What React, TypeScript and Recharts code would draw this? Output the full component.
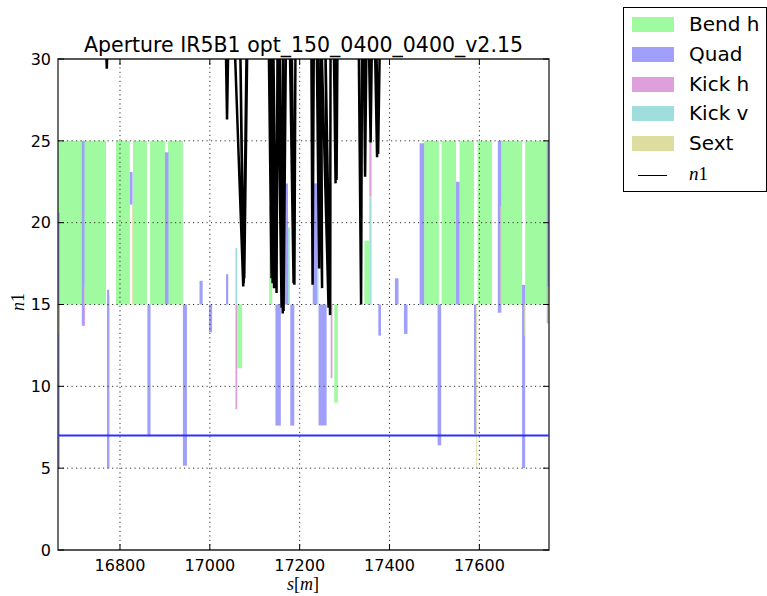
import React from "react";
import { ComposedChart, Line, XAxis, YAxis, ReferenceArea, ReferenceLine } from "recharts";

const TITLE = "Aperture IR5B1 opt_150_0400_0400_v2.15";

const S_MIN = 16662;
const S_MAX = 17755;
const xTicks = [16800, 17000, 17200, 17400, 17600];
const yTicks = [0, 5, 10, 15, 20, 25, 30];
const gridY = [5, 10, 15, 20, 25];

// element boxes: [s start, s end, n1 low, n1 high]
const bendH = [
  [16662, 16769, 15, 25],
  [16791, 16822, 15, 25],
  [16829, 16860, 15, 25],
  [16867, 16900, 15, 25],
  [16907, 16940, 15, 25],
  [17061, 17072, 11.1, 15],
  [17132, 17139, 15, 21],
  [17277, 17285, 9, 15],
  [17344, 17355, 15, 18.9],
  [17477, 17510, 15, 25],
  [17516, 17548, 15, 25],
  [17556, 17588, 15, 25],
  [17596, 17628, 15, 25],
  [17649, 17695, 15, 25],
  [17702, 17753, 15, 25],
];

const quad = [
  [16662, 16666, 5, 20.6],
  [16715, 16721, 13.7, 25],
  [16771, 16776, 5, 15.9],
  [16822, 16828, 21.1, 23.1],
  [16861, 16868, 7, 15],
  [16900, 16908, 15, 24.3],
  [16940, 16949, 5.15, 15],
  [16977, 16984, 15, 16.45],
  [16998, 17005, 13.3, 15],
  [17036, 17041, 15, 16.85],
  [17146, 17158, 7.6, 15],
  [17157, 17174, 15, 22.4],
  [17179, 17188, 7.6, 15],
  [17229, 17239, 15, 22.4],
  [17242, 17260, 7.6, 15],
  [17262, 17271, 15, 22.4],
  [17375, 17381, 13.1, 15],
  [17412, 17420, 15, 16.6],
  [17432, 17440, 13.2, 15],
  [17467, 17477, 15, 24.85],
  [17507, 17515, 6.4, 15],
  [17548, 17556, 15, 22.5],
  [17588, 17593, 7.1, 15],
  [17641, 17649, 14.5, 25],
  [17695, 17702, 5, 16.2],
  [17750, 17755, 13.85, 25],
];

const kickH = [
  [16720, 16722, 13.7, 15],
  [17057, 17061, 8.6, 15],
  [17269, 17273, 10.5, 15],
  [17355, 17360, 21.6, 25],
];

const kickV = [
  [17057, 17061, 15, 18.45],
  [17174, 17178, 15, 19.7],
  [17239, 17242, 15, 21.6],
  [17355, 17360, 15, 21.6],
];

const sext = [
  [16662, 16664, 13.2, 15],
  [16721, 16723, 15, 16.1],
  [16776, 16778, 5, 15.5],
  [16827, 16829, 15, 21.1],
  [17593, 17595, 5, 15],
  [17647, 17649, 15, 21],
  [17700, 17702, 13.1, 15],
  [17752, 17755, 13.85, 16.1],
];

// n1 along s; 32 stands for "off scale" (clipped above 30)
const n1Curve = [
  [16662, 32],
  [16767.7, 32], [16770.6, 29.4], [16773.3, 32],
  [17034.9, 32], [17038.3, 26.3], [17041.6, 32],
  [17053.9, 32], [17074.4, 16.1], [17067.2, 32], [17075.3, 16.3], [17082.4, 32], [17076.6, 16.6], [17083.9, 32],
  [17130.7, 32], [17137.4, 16.6], [17133.5, 32], [17139.8, 16.3], [17135.2, 32], [17143.0, 16.0],
  [17140.7, 32], [17148.5, 15.7],
  [17150.8, 32], [17159.7, 14.8], [17155.2, 32], [17162.3, 14.45], [17163.0, 32], [17164.1, 14.6], [17169.7, 32],
  [17177.5, 32], [17186.4, 16.3], [17181.9, 32], [17188.2, 16.2], [17190.8, 32],
  [17225.8, 32], [17228.7, 16.2], [17231.6, 32],
  [17237.6, 32], [17243.2, 17.2], [17240.9, 32], [17249.9, 16.0], [17247.6, 32], [17264.3, 14.8],
  [17256.5, 32], [17267.7, 14.35], [17268.8, 32],
  [17275.5, 32], [17279.9, 22.4], [17277.7, 32], [17282.1, 22.6], [17284.4, 32],
  [17331.1, 32], [17336.7, 15.0], [17338.9, 32],
  [17342.3, 32], [17345.6, 22.8], [17349.0, 32],
  [17353.4, 32], [17357.9, 24.9], [17361.2, 32],
  [17366.8, 32], [17372.3, 24.0], [17370.1, 32], [17374.6, 24.2], [17379.0, 32],
  [17755, 32],
];

const n1Ref = 7;

const COLORS = {
  bendH: "#a0faa0",
  quad: "#a0a0fa",
  kickH: "#dda0dd",
  kickV: "#a0dddd",
  sext: "#dddda0",
};

const layers = [
  { name: "Bend h", rows: bendH, color: COLORS.bendH },
  { name: "Quad", rows: quad, color: COLORS.quad },
  { name: "Kick h", rows: kickH, color: COLORS.kickH },
  { name: "Kick v", rows: kickV, color: COLORS.kickV },
  { name: "Sext", rows: sext, color: COLORS.sext },
];

const n1Data = n1Curve.map(([s, v]) => ({ s, n1: v }));

const PLOT_TOP = 59;
const PLOT_RIGHT = 549;
const FONT = "'DejaVu Sans', sans-serif";

const XTick = (p: any) => (
  <g>
    <line x1={p.x} x2={p.x} y1={p.y} y2={p.y - 6} stroke="#000" />
    <line x1={p.x} x2={p.x} y1={PLOT_TOP} y2={PLOT_TOP + 6} stroke="#000" />
    <text x={p.x} y={p.y + 21} textAnchor="middle" fontSize={16} fontFamily={FONT} fill="#000">
      {p.payload.value}
    </text>
  </g>
);

const YTick = (p: any) => (
  <g>
    <line x1={p.x} x2={p.x + 6} y1={p.y} y2={p.y} stroke="#000" />
    <line x1={PLOT_RIGHT} x2={PLOT_RIGHT - 6} y1={p.y} y2={p.y} stroke="#000" />
    <text x={p.x - 7} y={p.y} dy="0.36em" textAnchor="end" fontSize={16} fontFamily={FONT} fill="#000">
      {p.payload.value}
    </text>
  </g>
);

function Legend() {
  const rowTop = 16;
  const step = 29.8;
  return (
    <div
      style={{
        position: "absolute", left: 623, top: 7, width: 142, height: 183,
        border: "1px solid #000", background: "#fff",
      }}
    >
      {layers.map((l, i) => (
        <div key={l.name} style={{ position: "absolute", left: 8, top: rowTop - 7 + i * step, height: 16, width: 140 }}>
          <div style={{ position: "absolute", left: 0, top: 0, width: 42, height: 15, background: l.color }} />
          <div style={{ position: "absolute", left: 57, top: -3, fontSize: 20, lineHeight: "20px", fontFamily: FONT, whiteSpace: "nowrap" }}>
            {l.name}
          </div>
        </div>
      ))}
      <div style={{ position: "absolute", left: 14, top: 167, width: 29, height: 0, borderTop: "1.5px solid #000" }} />
      <div style={{ position: "absolute", left: 65, top: 156, fontSize: 19, lineHeight: "20px", fontFamily: "'Liberation Serif', serif", whiteSpace: "nowrap" }}>
        <i>n</i>1
      </div>
    </div>
  );
}

export default function App() {
  return (
    <div style={{ position: "absolute", left: 0, top: 0, width: 767, height: 596, background: "#fff", overflow: "hidden" }}>
      <ComposedChart width={767} height={596} margin={{ top: PLOT_TOP, right: 767 - PLOT_RIGHT, bottom: 0, left: 0 }}>
        <XAxis
          type="number" dataKey="s" domain={[S_MIN, S_MAX]} allowDataOverflow ticks={xTicks} interval={0}
          height={46} tickSize={0} tickMargin={0} axisLine={false} tickLine={false} tick={XTick}
        />
        <YAxis
          type="number" domain={[0, 30]} allowDataOverflow ticks={yTicks} interval={0}
          width={58} tickSize={0} tickMargin={0} axisLine={false} tickLine={false} tick={YTick}
        />
        {layers.flatMap((l) =>
          l.rows.map(([s0, s1, lo, hi], i) => (
            <ReferenceArea
              key={`${l.name}-${i}`} x1={s0} x2={s1} y1={lo} y2={hi}
              fill={l.color} fillOpacity={1} stroke="none" ifOverflow="hidden"
            />
          ))
        )}
        {xTicks.map((t) => (
          <ReferenceLine key={`gx${t}`} x={t} stroke="#333" strokeDasharray="1.2 3.3" strokeWidth={1} />
        ))}
        {gridY.map((t) => (
          <ReferenceLine key={`gy${t}`} y={t} stroke="#333" strokeDasharray="1.2 3.3" strokeWidth={1} />
        ))}
        <ReferenceLine y={n1Ref} stroke="#2f2fff" strokeWidth={2} />
        <Line
          data={n1Data} dataKey="n1" type="linear" stroke="#000" strokeWidth={2.5}
          dot={false} activeDot={false} isAnimationActive={false} legendType="none"
        />
        <ReferenceArea x1={S_MIN} x2={S_MAX} y1={0} y2={30} fill="none" stroke="#222" strokeWidth={1.3} ifOverflow="visible" />
      </ComposedChart>
      <div style={{ position: "absolute", left: 58, top: 35, width: 491, textAlign: "center", fontSize: 20.5, lineHeight: "20px", fontFamily: FONT, whiteSpace: "nowrap" }}>
        {TITLE}
      </div>
      <div style={{ position: "absolute", left: 253, top: 574, width: 100, textAlign: "center", fontSize: 18, lineHeight: "20px", fontFamily: "'Liberation Serif', serif" }}>
        <i>s</i>[<i>m</i>]
      </div>
      <div
        style={{
          position: "absolute", left: 18, top: 302, fontSize: 18, lineHeight: "20px", fontFamily: "'Liberation Serif', serif",
          transform: "translate(-50%, -50%) rotate(-90deg)", whiteSpace: "nowrap",
        }}
      >
        <i>n</i>1
      </div>
      <Legend />
    </div>
  );
}
